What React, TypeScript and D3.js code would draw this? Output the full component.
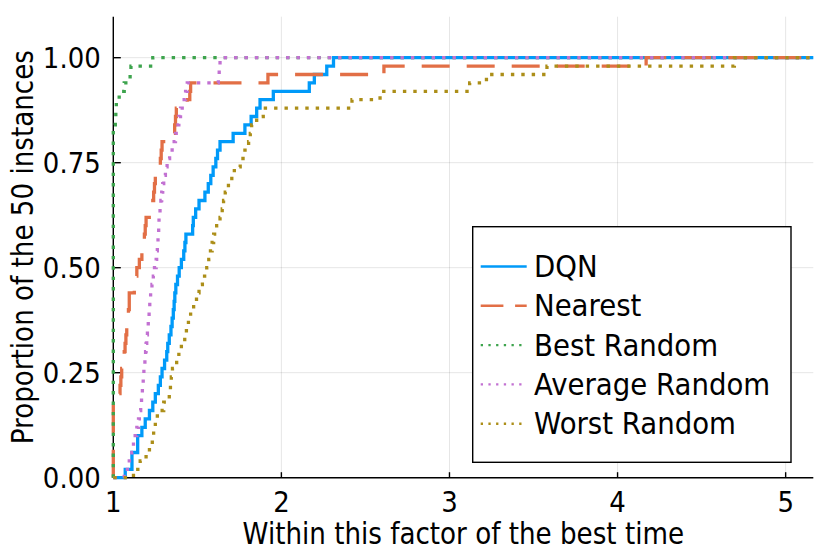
import { useEffect, useRef } from "react";
import * as d3 from "d3";

// performance profile: sorted ratios to best time, 50 instances each
const seriesNames = ["DQN", "Nearest", "Best Random", "Average Random", "Worst Random"];
const seriesColors = ["#009af9", "#e26f46", "#3da44d", "#c271d2", "#ac8e18"];

const dqn = [
  1.071, 1.111, 1.111, 1.145, 1.145, 1.17, 1.19, 1.215, 1.235, 1.25,
  1.268, 1.28, 1.29, 1.305, 1.318, 1.324, 1.333, 1.343, 1.35, 1.357,
  1.362, 1.366, 1.372, 1.382, 1.392, 1.405, 1.419, 1.426, 1.432, 1.472,
  1.476, 1.49, 1.51, 1.545, 1.565, 1.58, 1.594, 1.61, 1.62, 1.635,
  1.713, 1.783, 1.82, 1.853, 1.873, 1.952, 2.166, 2.196, 2.27, 2.31,
];
const nearest = [
  1, 1, 1, 1, 1, 1, 1, 1, 1, 1,
  1.04, 1.045, 1.05, 1.06, 1.065, 1.07, 1.075, 1.08, 1.085, 1.09,
  1.095, 1.095, 1.125, 1.13, 1.14, 1.155, 1.17, 1.18, 1.185, 1.19,
  1.195, 1.23, 1.235, 1.24, 1.245, 1.25, 1.27, 1.28, 1.285, 1.29,
  1.36, 1.365, 1.37, 1.375, 1.44, 1.455, 1.46, 1.92, 2.61, 4.17,
];
const bestRandom = [
  1, 1, 1, 1, 1, 1, 1, 1, 1, 1,
  1, 1, 1, 1, 1, 1, 1, 1, 1, 1,
  1, 1, 1, 1, 1, 1, 1, 1, 1, 1,
  1, 1, 1, 1, 1, 1, 1, 1, 1, 1,
  1, 1, 1.012, 1.015, 1.018, 1.035, 1.065, 1.1, 1.105, 1.235,
];
const averageRandom = [
  1.065, 1.095, 1.11, 1.12, 1.13, 1.14, 1.15, 1.155, 1.163, 1.168,
  1.173, 1.178, 1.182, 1.188, 1.192, 1.195, 1.199, 1.203, 1.208, 1.213,
  1.217, 1.222, 1.23, 1.238, 1.245, 1.255, 1.258, 1.262, 1.266, 1.27,
  1.272, 1.278, 1.283, 1.288, 1.294, 1.3, 1.31, 1.32, 1.335, 1.35,
  1.37, 1.385, 1.39, 1.4, 1.41, 1.43, 1.44, 1.625, 1.63, 1.635,
];
const worstRandom = [
  1.12, 1.16, 1.195, 1.215, 1.232, 1.24, 1.25, 1.262, 1.3, 1.333,
  1.34, 1.345, 1.352, 1.377, 1.39, 1.405, 1.425, 1.435, 1.447, 1.46,
  1.478, 1.495, 1.51, 1.53, 1.556, 1.568, 1.578, 1.588, 1.597, 1.615,
  1.635, 1.648, 1.656, 1.666, 1.685, 1.705, 1.72, 1.755, 1.783, 1.805,
  1.815, 1.823, 1.853, 1.892, 2.42, 2.587, 3.12, 3.22, 3.58, 4.695,
];

const xTicks = [1, 2, 3, 4, 5];
const yTicks = [0, 0.25, 0.5, 0.75, 1.0];

export default function App() {
  const ref = useRef<SVGSVGElement | null>(null);

  useEffect(() => {
    if (!ref.current) return;
    const svg = d3.select(ref.current);
    svg.selectAll("*").remove();

    const font = "DejaVu Sans";
    // text in the original is a bit narrower than DejaVu at the same height
    const squeeze = 0.89;
    const label = (
      g: d3.Selection<any, unknown, null, undefined>,
      tx: number, ty: number, str: string, size: number,
      anchor: string, rot = false,
    ) => {
      g.append("text")
        .attr("transform", `translate(${tx},${ty})${rot ? " rotate(-90)" : ""} scale(${squeeze},1)`)
        .attr("text-anchor", anchor)
        .attr("font-family", font)
        .attr("font-size", size)
        .text(str);
    };

    const all = [dqn, nearest, bestRandom, averageRandom, worstRandom];
    const xMax = 1.1 * d3.max(all.flat())!;

    const x = d3.scaleLinear().domain([1, xMax]).range([113.3, 813.3]);
    const y = d3.scaleLinear().domain([0, 1.0976]).range([477.7, 16.7]);
    const [x0, x1] = x.range();
    const [y0, y1] = y.range();

    // grid
    const grid = svg.append("g").attr("stroke", "#000").attr("stroke-opacity", 0.1).attr("stroke-width", 1);
    xTicks.forEach(t => {
      grid.append("line").attr("x1", x(t)).attr("x2", x(t)).attr("y1", y0).attr("y2", y1);
    });
    yTicks.forEach(t => {
      grid.append("line").attr("x1", x0).attr("x2", x1).attr("y1", y(t)).attr("y2", y(t));
    });

    // axes
    const ax = svg.append("g").attr("stroke", "#000").attr("stroke-width", 1.4);
    ax.append("line").attr("x1", x0).attr("x2", x1).attr("y1", y0).attr("y2", y0);
    ax.append("line").attr("x1", x0).attr("x2", x0).attr("y1", y0).attr("y2", y1);
    xTicks.forEach(t => {
      ax.append("line").attr("x1", x(t)).attr("x2", x(t)).attr("y1", y0).attr("y2", y0 - 5.5);
    });
    yTicks.forEach(t => {
      ax.append("line").attr("x1", x0).attr("x2", x0 + 7.5).attr("y1", y(t)).attr("y2", y(t));
    });

    const txt = svg.append("g");
    xTicks.forEach(t => label(txt, x(t), 511.5, String(t), 29.2, "middle"));
    yTicks.forEach(t => label(txt, 100.7, y(t) + 10.5, d3.format(".2f")(t), 29.2, "end"));
    label(txt, (x0 + x1) / 2, 544, "Within this factor of the best time", 29.4, "middle");
    label(txt, 33, (y0 + y1) / 2, "Proportion of the 50 instances", 29.4, "middle", true);

    // step lines
    const dashes = ["none", "28,17", "3.4,7", "3.4,7", "3.4,7"];
    const line = d3.line<[number, number]>()
      .x(d => x(d[0]))
      .y(d => y(d[1]))
      .curve(d3.curveStepAfter);

    all.forEach((vals, i) => {
      const n = vals.length;
      const pts: [number, number][] = [[1, 0]];
      vals.forEach((v, k) => pts.push([v, (k + 1) / n]));
      pts.push([xMax, 1]);
      svg.append("path")
        .datum(pts)
        .attr("fill", "none")
        .attr("stroke", seriesColors[i])
        .attr("stroke-width", 3.3)
        .attr("stroke-dasharray", dashes[i])
        .attr("d", line);
    });

    // legend
    const lg = svg.append("g");
    lg.append("rect")
      .attr("x", 472.7).attr("y", 226.7)
      .attr("width", 318.3).attr("height", 235.6)
      .attr("fill", "#fff").attr("stroke", "#000").attr("stroke-width", 1.4);
    const legendDashes = ["none", "22.7,11.7", "2.3,5.4", "2.3,5.4", "2.3,5.4"];
    seriesNames.forEach((name, i) => {
      const by = 277 + i * 39.3;
      lg.append("line")
        .attr("x1", 480.7).attr("x2", 526.7)
        .attr("y1", by - 10.5).attr("y2", by - 10.5)
        .attr("stroke", seriesColors[i])
        .attr("stroke-width", 2.4)
        .attr("stroke-dasharray", legendDashes[i]);
      label(lg, 534, by, name, 31, "start");
    });
  }, []);

  return (
    <div style={{ position: "absolute", left: 0, top: 0 }}>
      <svg ref={ref} width={830} height={554} style={{ display: "block", background: "#fff" }} />
    </div>
  );
}
